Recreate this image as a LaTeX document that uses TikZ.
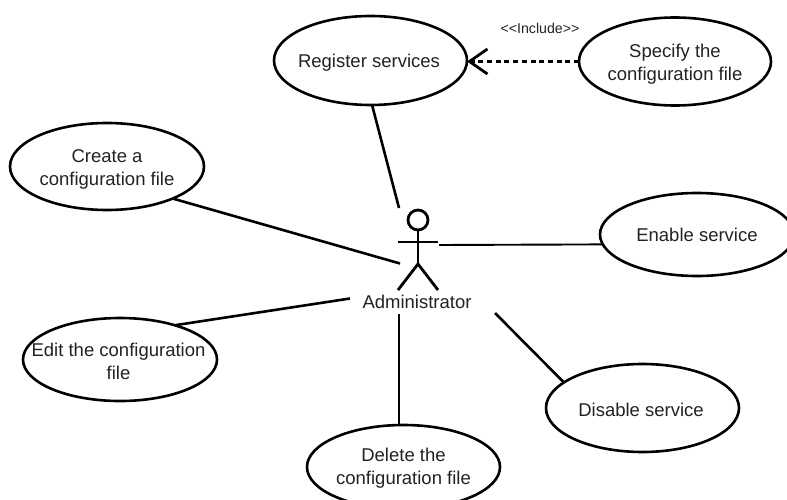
\documentclass[tikz,border=0pt]{standalone}
\usepackage{fontspec}
\setmainfont{Liberation Sans}
\usetikzlibrary{shapes.geometric,arrows.meta}
\definecolor{ink}{HTML}{222222}
\newcommand\uctext[3]{\makebox[0pt]{\hspace{#1}\hspace{#1}\raisebox{\dimexpr#2-4.6pt\relax}[0pt][0pt]{\begin{tabular}{@{}c@{}}#3\end{tabular}}}}
\tikzset{
  uc/.style n args={2}{draw=black,text=ink,ellipse,line width=2.6pt,inner sep=0pt,outer sep=0pt,minimum width=#1,minimum height=#2,font=\fontsize{18.5}{22.7}\selectfont},
  link/.style={draw=black,line width=2.6pt},
  thinlink/.style={draw=black,line width=1.9pt},
  actorline/.style={draw=black,line width=2.8pt}
}
\begin{document}
\begin{tikzpicture}[x=1pt,y=-1pt]
\useasboundingbox (0,0) rectangle (787,500);
\node[uc={193}{89}] (reg) at (370.5,60.5) {\uctext{-1.5pt}{-2pt}{Register services}};
\node[uc={192}{88}] (spec) at (675,61.5) {\uctext{0pt}{-2.5pt}{Specify the\\configuration file}};
\node[uc={194}{87}] (create) at (107,166.5) {\uctext{0pt}{-3pt}{Create a\\configuration file}};
\node[uc={194}{83}] (enable) at (697,234.5) {\uctext{0pt}{-2pt}{Enable service}};
\node[uc={194}{83}] (edit) at (120,359.5) {\uctext{-1.5pt}{-4pt}{Edit the configuration\\file}};
\node[uc={193}{88}] (disable) at (642.5,408) {\uctext{-1.5pt}{-4pt}{Disable service}};
\node[uc={193}{84}] (delete) at (403.5,467) {\uctext{0pt}{-1.5pt}{Delete the\\configuration file}};
% actor
\node[draw=black,circle,line width=2.8pt,minimum size=20,inner sep=0pt,outer sep=0pt] (head) at (418,220) {};
\coordinate (hip) at (418,264);
\coordinate (armL) at (398,242);
\coordinate (armR) at (438,242);
\coordinate (legL) at (398,290);
\coordinate (legR) at (438,290);
\draw[actorline] (head.south) -- (hip);
\draw[actorline] (armL) -- (armR);
\draw[actorline] (legL) -- (hip) -- (legR);
\node[text=ink,font=\fontsize{18.5}{22}\selectfont,inner sep=0pt] (admin) at (417,302) {Administrator};
% associations
\coordinate (aReg) at (399,208);
\coordinate (aCreate) at (400,263.5);
\coordinate (aEnable) at (439,245);
\coordinate (aEdit) at (350,298.5);
\coordinate (aDelete) at (399,314);
\coordinate (aDisable) at (495,313);
\draw[link] (reg.-88) -- (aReg);
\draw[link] (create.-26.6) -- (aCreate);
\draw[thinlink] (aEnable) -- (enable.186.2);
\draw[link] (edit.32) -- (aEdit);
\draw[link] (aDelete) -- (aDelete |- delete.north);
\draw[link] (aDisable) -- (disable.162);
% include
\draw[draw=black,line width=3pt,dash pattern=on 5pt off 3.7pt,-{Straight Barb[length=18pt,width=25pt,line width=2.8pt]}] (spec.west) -- (reg.east |- spec.west);
\node[text=ink,font=\fontsize{14.2}{16}\selectfont,inner sep=0pt] (inc) at (540,28) {{<}{<}Include{>}{>}};
\end{tikzpicture}
\end{document}
